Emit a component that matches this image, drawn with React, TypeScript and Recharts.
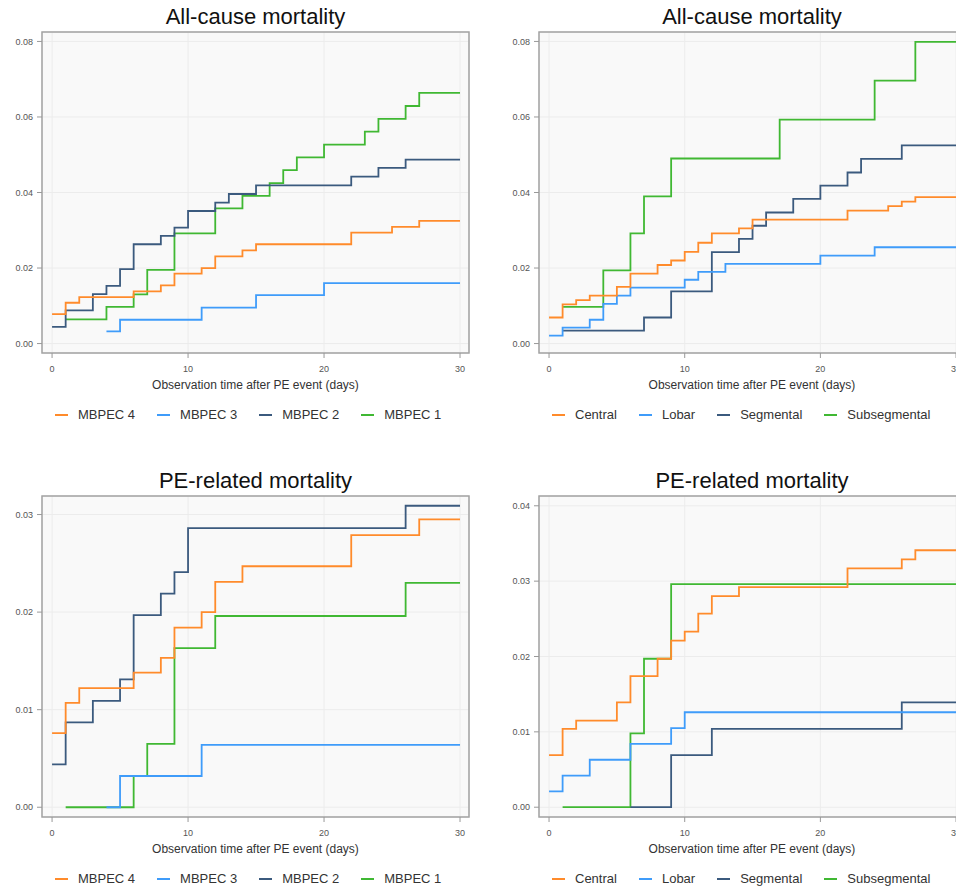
import React from 'react';
import { LineChart, Line, XAxis, YAxis, CartesianGrid, ReferenceArea } from 'recharts';

// colours shared by both groupings
const colors = ['#ff8b2b', '#3f9cfa', '#3b5a7e', '#40b833'];

const dayTicks = [0, 10, 20, 30];
const dayDomain = [-0.74, 30.66];

const mbpecNames = ['MBPEC 4', 'MBPEC 3', 'MBPEC 2', 'MBPEC 1'];
const locationNames = ['Central', 'Lobar', 'Segmental', 'Subsegmental'];

// [day, cumulative incidence]
const acMbpec4 = [[0, 0.0078], [1, 0.0108], [2, 0.0123], [6, 0.0138], [8, 0.0154], [9, 0.0185], [11, 0.0200], [12, 0.0231], [14, 0.0247], [15, 0.0263], [22, 0.0294], [25, 0.0309], [27, 0.0325], [30, 0.0325]];
const acMbpec3 = [[4, 0.0032], [5, 0.0063], [11, 0.0095], [15, 0.0128], [20, 0.0160], [30, 0.0160]];
const acMbpec2 = [[0, 0.0044], [1, 0.0088], [3, 0.0131], [4, 0.0153], [5, 0.0197], [6, 0.0263], [8, 0.0285], [9, 0.0307], [10, 0.0351], [12, 0.0373], [13, 0.0396], [15, 0.0419], [22, 0.0442], [24, 0.0465], [26, 0.0487], [30, 0.0487]];
const acMbpec1 = [[1, 0.0064], [4, 0.0097], [6, 0.0130], [7, 0.0195], [9, 0.0292], [12, 0.0358], [14, 0.0391], [16, 0.0425], [17, 0.0459], [18, 0.0493], [20, 0.0527], [23, 0.0561], [24, 0.0595], [26, 0.0629], [27, 0.0664], [30, 0.0664]];

const acCentral = [[0, 0.0069], [1, 0.0104], [2, 0.0115], [3, 0.0127], [5, 0.0150], [6, 0.0185], [8, 0.0208], [9, 0.0220], [10, 0.0243], [11, 0.0267], [12, 0.0292], [14, 0.0305], [15, 0.0328], [22, 0.0352], [25, 0.0364], [26, 0.0376], [27, 0.0388], [30, 0.0388]];
const acLobar = [[0, 0.0021], [1, 0.0042], [3, 0.0063], [4, 0.0105], [5, 0.0127], [6, 0.0148], [10, 0.0169], [11, 0.0190], [13, 0.0211], [20, 0.0233], [24, 0.0255], [30, 0.0255]];
const acSegmental = [[1, 0.0034], [7, 0.0069], [9, 0.0138], [12, 0.0242], [14, 0.0277], [15, 0.0312], [16, 0.0347], [18, 0.0383], [20, 0.0418], [22, 0.0453], [23, 0.0489], [26, 0.0525], [30, 0.0525]];
const acSubsegmental = [[1, 0.0097], [4, 0.0194], [6, 0.0292], [7, 0.0390], [9, 0.0490], [17, 0.0593], [24, 0.0696], [27, 0.0799], [30, 0.0799]];

const peMbpec4 = [[0, 0.0076], [1, 0.0107], [2, 0.0122], [6, 0.0138], [8, 0.0153], [9, 0.0184], [11, 0.0200], [12, 0.0231], [14, 0.0247], [22, 0.0279], [27, 0.0295], [30, 0.0295]];
const peMbpec3 = [[4, 0], [5, 0.0032], [11, 0.0064], [30, 0.0064]];
const peMbpec2 = [[0, 0.0044], [1, 0.0087], [3, 0.0109], [5, 0.0131], [6, 0.0197], [8, 0.0219], [9, 0.0241], [10, 0.0286], [26, 0.0309], [30, 0.0309]];
const peMbpec1 = [[1, 0], [6, 0.0032], [7, 0.0065], [9, 0.0163], [12, 0.0196], [26, 0.0230], [30, 0.0230]];

const peCentral = [[0, 0.0069], [1, 0.0104], [2, 0.0115], [5, 0.0139], [6, 0.0174], [8, 0.0197], [9, 0.0221], [10, 0.0233], [11, 0.0257], [12, 0.0280], [14, 0.0292], [22, 0.0317], [26, 0.0329], [27, 0.0341], [30, 0.0341]];
const peLobar = [[0, 0.0021], [1, 0.0042], [3, 0.0063], [6, 0.0084], [9, 0.0105], [10, 0.0126], [30, 0.0126]];
const peSegmental = [[6, 0], [9, 0.0069], [12, 0.0104], [26, 0.0139], [30, 0.0139]];
const peSubsegmental = [[1, 0], [6, 0.0098], [7, 0.0197], [9, 0.0296], [30, 0.0296]];

const toPoints = (pts: number[][]) => pts.map(([t, v]) => ({ t, v }));

const PLOT_H = 321;
const AXIS_W = 42;

const Panel = ({ title, left, top, width, names, series, yDomain, yTicks }: any) => {
    // green is drawn first, orange last (on top)
    const order = [3, 2, 1, 0];
    return (
        <>
            <div style={{ position: 'absolute', left, top: top - 26, width, textAlign: 'center', fontSize: 22, lineHeight: '22px', color: '#111' }}>
                {title}
            </div>
            <div style={{ position: 'absolute', left: left - AXIS_W, top: top - 2 }}>
                <LineChart width={AXIS_W + width + 2} height={PLOT_H + 22} margin={{ top: 2, right: 2, left: 0, bottom: 0 }}>
                    <CartesianGrid stroke="#ececec" fill="#f9f9f9" />
                    <XAxis
                        dataKey="t"
                        type="number"
                        domain={dayDomain}
                        ticks={dayTicks}
                        allowDataOverflow
                        height={20}
                        axisLine={false}
                        tickSize={5}
                        tickMargin={8}
                        tickLine={{ stroke: '#999' }}
                        tick={{ fontSize: 9, fill: '#555' }}
                    />
                    <YAxis
                        type="number"
                        domain={yDomain}
                        ticks={yTicks}
                        allowDataOverflow
                        width={AXIS_W}
                        axisLine={false}
                        tickSize={5}
                        tickMargin={4}
                        tickLine={{ stroke: '#999' }}
                        tick={{ fontSize: 9, fill: '#555' }}
                        tickFormatter={(v: number) => v.toFixed(2)}
                    />
                    {order.map((i) => (
                        <Line
                            key={names[i]}
                            data={toPoints(series[i])}
                            dataKey="v"
                            type="stepAfter"
                            stroke={colors[i]}
                            strokeWidth={1.8}
                            dot={false}
                            isAnimationActive={false}
                        />
                    ))}
                    <ReferenceArea
                        x1={dayDomain[0]}
                        x2={dayDomain[1]}
                        y1={yDomain[0]}
                        y2={yDomain[1]}
                        fill="none"
                        fillOpacity={0}
                        stroke="#a3a3a3"
                        strokeWidth={1.5}
                    />
                </LineChart>
            </div>
            <div style={{ position: 'absolute', left, top: top + PLOT_H + 25, width, textAlign: 'center', fontSize: 12, lineHeight: '14px', color: '#333' }}>
                Observation time after PE event (days)
            </div>
            <div style={{ position: 'absolute', left: left + 13, top: top + PLOT_H + 54, display: 'flex', gap: 22, fontSize: 13, lineHeight: '16px', color: '#333', whiteSpace: 'nowrap' }}>
                {names.map((n: string, i: number) => (
                    <div key={n} style={{ display: 'flex', alignItems: 'center', gap: 10 }}>
                        <span style={{ display: 'inline-block', width: 13, height: 2, background: colors[i] }}></span>
                        <span>{n}</span>
                    </div>
                ))}
            </div>
        </>
    );
};

export default function App() {
    return (
        <div style={{ position: 'relative', width: 956, height: 890, overflow: 'hidden', background: '#fff', fontFamily: '"Liberation Sans", Arial, sans-serif' }}>
            <style>{'body{margin:0}'}</style>
            <Panel
                title="All-cause mortality"
                left={42}
                top={32}
                width={427}
                names={mbpecNames}
                series={[acMbpec4, acMbpec3, acMbpec2, acMbpec1]}
                yDomain={[-0.0025, 0.0825]}
                yTicks={[0, 0.02, 0.04, 0.06, 0.08]}
            />
            <Panel
                title="All-cause mortality"
                left={539}
                top={32}
                width={426}
                names={locationNames}
                series={[acCentral, acLobar, acSegmental, acSubsegmental]}
                yDomain={[-0.0025, 0.0825]}
                yTicks={[0, 0.02, 0.04, 0.06, 0.08]}
            />
            <Panel
                title="PE-related mortality"
                left={42}
                top={496}
                width={427}
                names={mbpecNames}
                series={[peMbpec4, peMbpec3, peMbpec2, peMbpec1]}
                yDomain={[-0.001, 0.0319]}
                yTicks={[0, 0.01, 0.02, 0.03]}
            />
            <Panel
                title="PE-related mortality"
                left={539}
                top={496}
                width={426}
                names={locationNames}
                series={[peCentral, peLobar, peSegmental, peSubsegmental]}
                yDomain={[-0.0013, 0.0413]}
                yTicks={[0, 0.01, 0.02, 0.03, 0.04]}
            />
        </div>
    );
}
